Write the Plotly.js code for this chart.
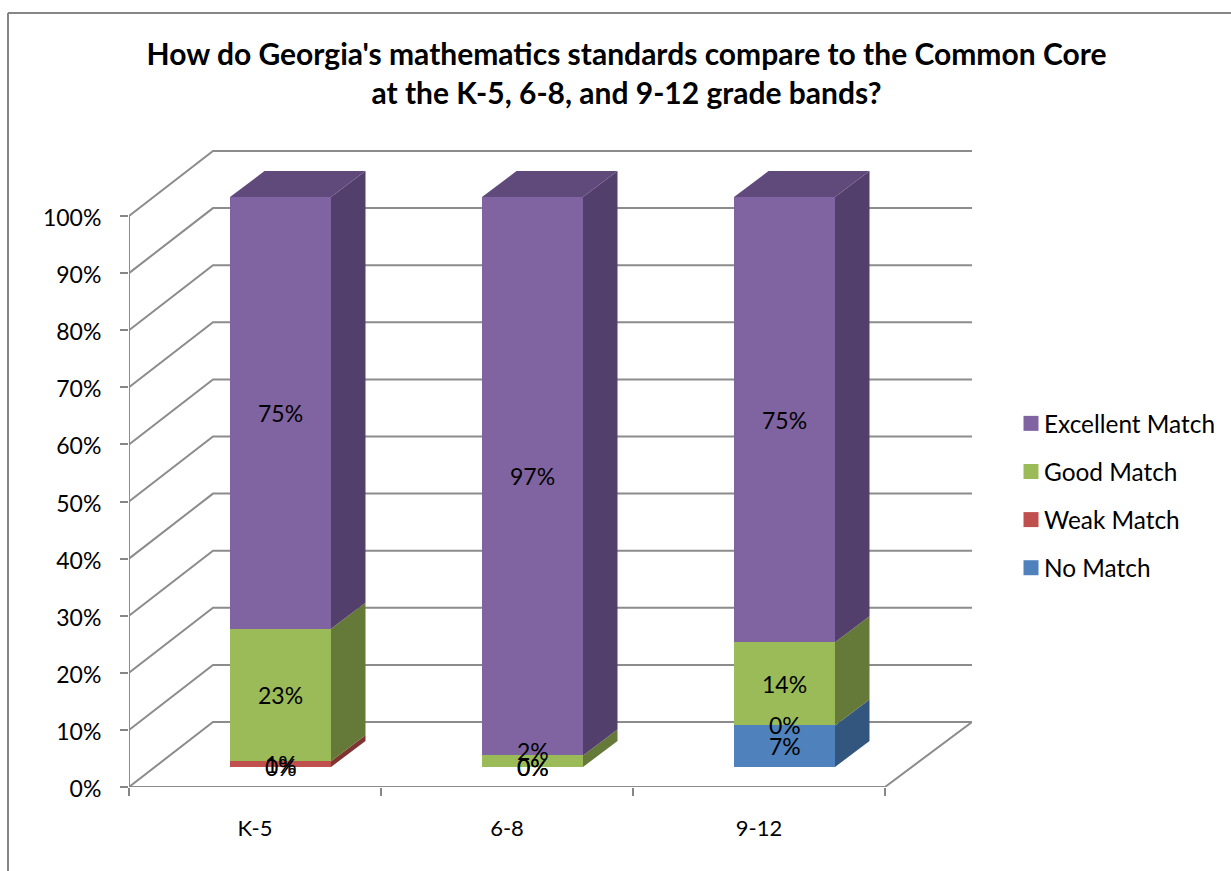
<!DOCTYPE html>
<html>
<head>
<meta charset="utf-8">
<script src="https://cdn.plot.ly/plotly-3.0.1.min.js"></script>
<style>html,body{margin:0;padding:0;background:#fff;}#chart{width:1231px;height:871px;}</style>
</head>
<body>
<div id="chart"></div>
<script>
// ---- data (raw percentages, drawn as 100% stacks)
var categories = ['K-5', '6-8', '9-12'];
var noMatch    = [0, 0, 7];
var weakMatch  = [1, 0, 0];
var goodMatch  = [23, 2, 14];
var excellent  = [75, 97, 75];
var yTicks = [0, 10, 20, 30, 40, 50, 60, 70, 80, 90, 100];
var yTickLabels = ['0%', '10%', '20%', '30%', '40%', '50%', '60%', '70%', '80%', '90%', '100%'];

// ---- series styling (bottom of stack first)
var series = [
  {name: 'No Match',        values: noMatch,   front: '#4f81bd', side: '#33567f'},
  {name: 'Weak Match',      values: weakMatch, front: '#c0504d', side: '#7f3432'},
  {name: 'Good Match',      values: goodMatch, front: '#9bbb59', side: '#657a39'},
  {name: 'Excellent Match', values: excellent, front: '#8064a2', side: '#533f6c', top: '#604a7b'}
];

// ---- layout geometry
var W = 1231, H = 871;
var plotL = 129, plotR = 972, plotT = 148, plotB = 787;
var catPx = 252, yPx = 5.71, barYPx = 5.70;
var wallDx = 84 / catPx, wallDy = 65 / yPx;
var barShift = 25.5 / catPx, barWidth = 101 / catPx;
var barFloorPx = 20;
var depthDx = 34.5 / catPx, depthDy = 26 / barYPx;
var xMin = -0.5, xMax = xMin + (plotR - plotL) / catPx;
var gridColor = '#8c8c8c', frameColor = '#868686';
var fontFamily = 'Lato, "Open Sans", sans-serif';
var labelSize = 23, catSize = 22, legendSize = 24.4, legendTextShift = -7;

var traces = [];

// wall, floor and gridlines, derived from the value axis ticks
var gx = [], gy = [];
yTicks.forEach(function (v) {
  gx.push(xMin, xMin + wallDx, xMax, null);
  gy.push(v, v + wallDy, v + wallDy, null);
});
gx.push(xMin, xMin, null, xMin, categories.length - 0.5, xMax);
gy.push(0, 100, null, 0, 0, wallDy);
traces.push({type: 'scatter', mode: 'lines', x: gx, y: gy, xaxis: 'x', yaxis: 'y',
  line: {color: gridColor, width: 2}, cliponaxis: false, showlegend: false, hoverinfo: 'skip'});

// normalised stack boundaries
var totals = categories.map(function (c, i) {
  return series.reduce(function (s, d) { return s + d.values[i]; }, 0);
});
var base = categories.map(function () { return 0; });
var annotations = [];
var faceTraces = [];

series.forEach(function (s, k) {
  traces.push({type: 'bar', name: s.name, x: [0, 1, 2], y: s.values, width: barWidth,
    xaxis: 'x2', yaxis: 'y2', marker: {color: s.front, line: {width: 0}},
    showlegend: false, hoverinfo: 'name+y'});

  var px = [], py = [], tx = [], ty = [];
  categories.forEach(function (c, i) {
    var b = base[i], t = b + s.values[i] / totals[i] * 100;
    var r = i + barWidth / 2, l = i - barWidth / 2;
    if (s.values[i] > 0) {
      px.push(r, r, r + depthDx, r + depthDx, r, null);
      py.push(b, t, t + depthDy, b + depthDy, b, null);
      tx.push(l, r, r + depthDx, l + depthDx, l, null);
      ty.push(t, t, t + depthDy, t + depthDy, t, null);
    }
    annotations.push({xref: 'x2', yref: 'y2', x: i, y: (b + t) / 2,
      text: s.values[i] + '%', showarrow: false, yanchor: 'middle', xanchor: 'center',
      // Small segments: the label is pushed up off the floor in the reference
      yshift: (s.values[i] === 2) ? 10 : 0,
      font: {family: fontFamily, size: labelSize, color: '#000'}});
    base[i] = t;
  });
  faceTraces.push({type: 'scatter', mode: 'lines', x: px, y: py, xaxis: 'x2', yaxis: 'y2',
    fill: 'toself', fillcolor: s.side, line: {width: 0, color: s.side},
    showlegend: false, hoverinfo: 'skip'});
  if (s.top) {
    faceTraces.push({type: 'scatter', mode: 'lines', x: tx, y: ty, xaxis: 'x2', yaxis: 'y2',
      fill: 'toself', fillcolor: s.top, line: {width: 0, color: s.top},
      cliponaxis: false, showlegend: false, hoverinfo: 'skip'});
  }
});
traces = traces.concat(faceTraces);

// legend entries (top to bottom)
series.slice().reverse().forEach(function (s) {
  traces.push({type: 'scatter', mode: 'markers', name: s.name, x: [null], y: [null],
    xaxis: 'x', yaxis: 'y', legendgroup: s.name,
    marker: {symbol: 'square', size: 15, color: s.front}, hoverinfo: 'skip'});
});

var plotW = plotR - plotL, plotH = plotB - plotT;
var layout = {
  width: W, height: H,
  paper_bgcolor: '#fff', plot_bgcolor: 'rgba(0,0,0,0)',
  margin: {l: plotL, r: W - plotR, t: plotT, b: H - plotB, pad: 0, autoexpand: false},
  font: {family: fontFamily, color: '#000', size: labelSize},
  barmode: 'stack', barnorm: 'percent',
  title: {
    text: "How do Georgia's mathematics standards compare to the Common Core<br>at the K-5, 6-8, and 9-12 grade bands?",
    font: {family: fontFamily, size: 30, color: '#000', weight: 'bold'},
    x: 626.5 / W, xref: 'container', xanchor: 'center',
    y: 1 - 65 / H, yref: 'container', yanchor: 'top'
  },
  xaxis: {
    type: 'linear', range: [xMin, xMax], showgrid: false, zeroline: false, showline: false,
    tickmode: 'array', tickvals: [0, 1, 2], ticktext: categories, ticks: '',
    ticklabelstandoff: 26, tickfont: {family: fontFamily, size: catSize, color: '#000'},
    minor: {tickmode: 'array', tickvals: [-0.5, 0.5, 1.5, 2.5], ticks: 'outside', ticklen: 8,
      tickwidth: 2, tickcolor: frameColor, showgrid: false}
  },
  yaxis: {
    type: 'linear', range: [0, plotH / yPx], showgrid: false, zeroline: false, showline: false,
    tickmode: 'array', tickvals: yTicks, ticktext: yTickLabels, ticks: 'outside', ticklen: 8,
    tickwidth: 2, tickcolor: frameColor, ticklabelstandoff: 14, ticklabelshift: 2,
    tickfont: {family: fontFamily, size: labelSize, color: '#000'}
  },
  xaxis2: {type: 'linear', overlaying: 'x', visible: false,
    range: [xMin - barShift, xMax - barShift]},
  yaxis2: {type: 'linear', overlaying: 'y', visible: false,
    range: [-barFloorPx / barYPx, (plotH - barFloorPx) / barYPx]},
  legend: {
    x: (1011 - plotL) / plotW, xanchor: 'left',
    y: (plotB - 401) / plotH, yanchor: 'top',
    traceorder: 'grouped', tracegroupgap: 13.4,
    font: {family: fontFamily, size: legendSize, color: '#000'},
    bgcolor: 'rgba(0,0,0,0)', itemsizing: 'trace', itemwidth: 30
  },
  annotations: annotations,
  shapes: [
    {type: 'line', xref: 'paper', yref: 'paper', layer: 'below',
      x0: (8 - plotL) / plotW, x1: (W - plotL) / plotW,
      y0: (plotB - 13) / plotH, y1: (plotB - 13) / plotH,
      line: {color: frameColor, width: 2}},
    {type: 'line', xref: 'paper', yref: 'paper', layer: 'below',
      x0: (8 - plotL) / plotW, x1: (8 - plotL) / plotW,
      y0: (plotB - 13) / plotH, y1: (plotB - H) / plotH,
      line: {color: frameColor, width: 2}}
  ],
  showlegend: true
};

Plotly.newPlot('chart', traces, layout, {displayModeBar: false, responsive: false}).then(function () {
  // Excel's legend keeps the text closer to the swatch than Plotly's minimum item width allows
  document.querySelectorAll('#chart .legendtext').forEach(function (t) {
    t.setAttribute('x', parseFloat(t.getAttribute('x')) + legendTextShift);
  });
});
</script>
</body>
</html>
